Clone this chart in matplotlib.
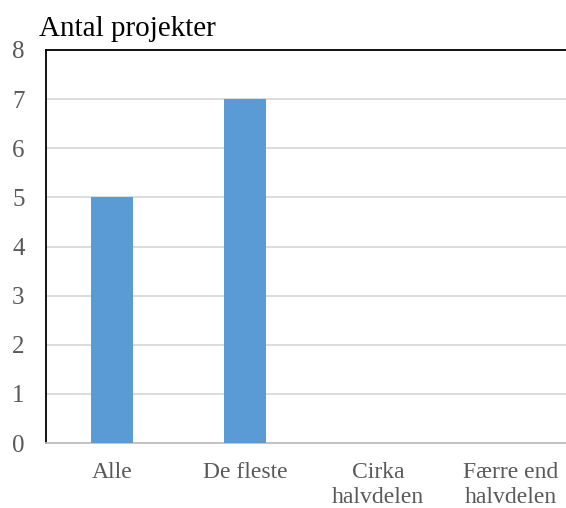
import matplotlib
matplotlib.use("Agg")
import matplotlib.pyplot as plt

categories = ["Alle", "De fleste", "Cirka\nhalvdelen", "Færre end\nhalvdelen"]
values = [5, 7, 0, 0]
yticks = [0, 1, 2, 3, 4, 5, 6, 7, 8]
title = "Antal projekter"

plt.rcParams['font.family'] = ['Liberation Serif', 'DejaVu Serif']

W, H = 566, 508
fig = plt.figure(figsize=(W/100, H/100), dpi=100)
left, right = 45.5, 577.5
bottom, top = 443, 50
ax = fig.add_axes([left/W, (H-bottom)/H, (right-left)/W, (bottom-top)/H])

x = range(len(categories))
ax.bar(x, values, width=0.31, color="#5B9BD5", zorder=3)
ax.set_xlim(-0.5, 3.5)
ax.set_ylim(0, 8)
ax.set_yticks(yticks)
ax.set_yticklabels([str(v) for v in yticks])
ax.set_xticks(list(x))
ax.set_xticklabels(categories, linespacing=1.2)
ax.yaxis.grid(True, color="#D9D9D9", linewidth=1.3, zorder=0)
ax.set_axisbelow(True)
ax.spines["right"].set_visible(False)
ax.spines["left"].set_color("black")
ax.spines["left"].set_linewidth(1.3)
ax.spines["top"].set_color("black")
ax.spines["top"].set_linewidth(1.3)
ax.spines["bottom"].set_color("#BFBFBF")
ax.spines["bottom"].set_linewidth(1.3)
ax.tick_params(axis="both", length=0, colors="#595959")
ax.tick_params(axis="x", labelsize=17, pad=14)
ax.tick_params(axis="y", labelsize=18, pad=15)
fig.text(39/W, 1-36/H, title, fontsize=21, color="black", ha="left", va="baseline")

fig.savefig("out.png", dpi=100)
